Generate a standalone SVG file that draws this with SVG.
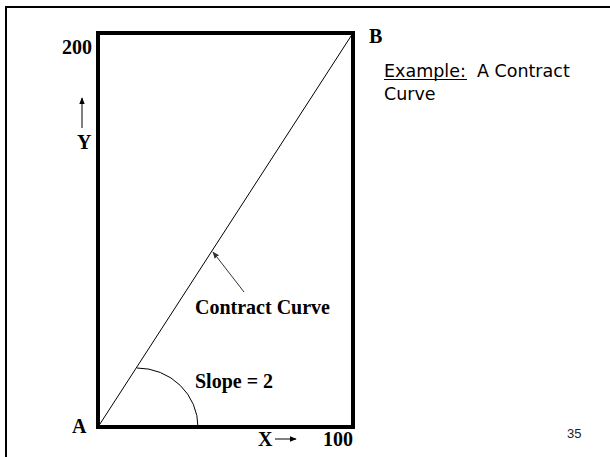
<svg xmlns="http://www.w3.org/2000/svg" width="610" height="457" viewBox="0 0 610 457">
<style>
.lbl{font-family:"Liberation Serif","Times New Roman",serif;font-weight:bold;font-size:20px;fill:#000}
.sans{font-family:"DejaVu Sans",Tahoma,sans-serif;font-size:17.5px;fill:#000}
.thin{stroke:#000;stroke-width:1;fill:none}
</style>
<defs>
<marker id="ah" viewBox="0 0 10 10" refX="9" refY="5" markerWidth="7" markerHeight="7" markerUnits="userSpaceOnUse" orient="auto">
<path d="M0,1 L10,5 L0,9 Z" fill="#000"/>
</marker>
<marker id="ahg" viewBox="0 0 10 10" refX="9" refY="5" markerWidth="7" markerHeight="7" markerUnits="userSpaceOnUse" orient="auto">
<path d="M0,1 L10,5 L0,9 Z" fill="#333"/>
</marker>
</defs>
<rect width="610" height="457" fill="#fff"/>
<g id="frame">
<path d="M6,458 L6,7 L611,7" fill="none" stroke="#000" stroke-width="2"/>
</g>
<g id="box">
<rect x="98" y="33" width="255" height="394" fill="none" stroke="#000" stroke-width="4"/>
</g>
<g id="connectors">
<line id="contract-curve-line" x1="98" y1="427" x2="353" y2="33" stroke="#000" stroke-width="1"/>
<path id="slope-arc" d="M137,368 A61,59 0 0 1 198,427" class="thin"/>
<line x1="244" y1="292" x2="213" y2="252" stroke="#333" stroke-width="1" marker-end="url(#ahg)"/>
<line x1="82" y1="128" x2="82" y2="98" class="thin" marker-end="url(#ah)"/>
<line x1="275" y1="439" x2="296" y2="439" class="thin" marker-end="url(#ah)"/>
</g>
<g id="labels">
<text class="lbl" x="62" y="54">200</text>
<text class="lbl" x="77" y="149">Y</text>
<text class="lbl" x="369" y="43">B</text>
<text class="lbl" x="72" y="433">A</text>
<text class="lbl" x="258" y="446">X</text>
<text class="lbl" x="323" y="446">100</text>
<text class="lbl" x="195" y="314">Contract Curve</text>
<text class="lbl" x="195" y="388">Slope = 2</text>
</g>
<g id="title">
<text class="sans" x="384" y="77" xml:space="preserve">Example:  A Contract</text>
<line x1="384" y1="79.5" x2="467" y2="79.5" stroke="#000" stroke-width="1.2"/>
<text class="sans" x="384" y="100">Curve</text>
</g>
<g id="page">
<text x="567" y="438" style="font-family:'Liberation Sans',Arial,sans-serif;font-size:13px;fill:#222">35</text>
</g>
</svg>
